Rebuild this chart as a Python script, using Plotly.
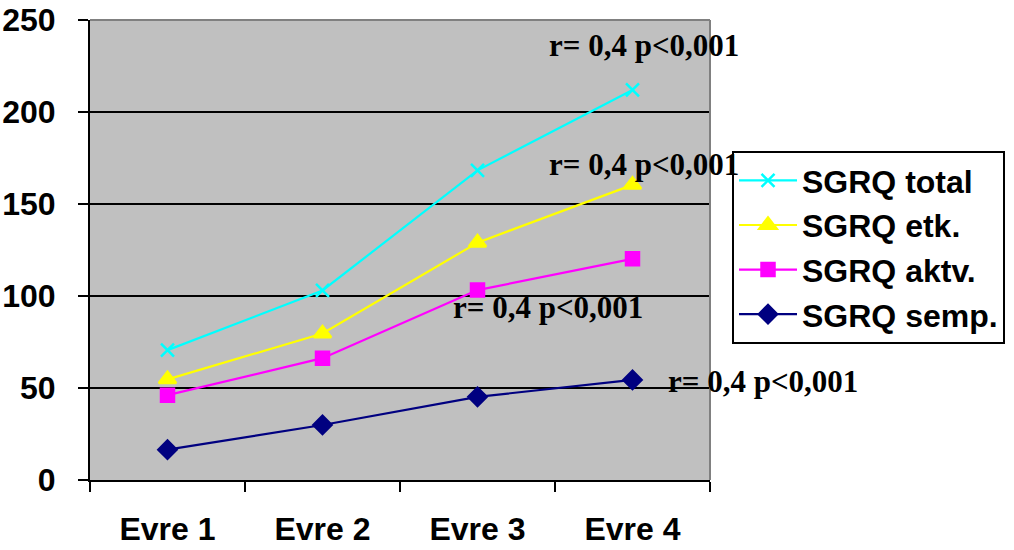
import plotly.graph_objects as go

categories = ["Evre 1", "Evre 2", "Evre 3", "Evre 4"]
sgrq_total = [70.6, 103, 168.3, 212]
sgrq_etk = [54.7, 79.6, 129, 160.4]
sgrq_aktv = [46.1, 66.2, 103.2, 120.2]
sgrq_semp = [16.5, 29.9, 45.2, 54.4]
y_ticks = [0, 50, 100, 150, 200, 250]
annot_text = "r= 0,4 p<0,001"

AX = dict(family="Arial, Liberation Sans, sans-serif", size=32, color="black")

fig = go.Figure()
series = [
    ("SGRQ total", sgrq_total, "#00FFFF", "x-thin", 13),
    ("SGRQ etk.", sgrq_etk, "#FFFF00", "triangle-up", 15),
    ("SGRQ aktv.", sgrq_aktv, "#FF00FF", "square", 13),
    ("SGRQ semp.", sgrq_semp, "#000080", "diamond", 14),
]
for name, vals, col, sym, sz in series:
    fig.add_trace(go.Scatter(
        x=list(range(len(categories))), y=vals, name="<b>%s</b>" % name, mode="lines+markers",
        line=dict(color=col, width=2.2),
        marker=dict(symbol=sym, size=sz, color=col, line=dict(color=col, width=2.5)),
    ))

fig.update_layout(
    width=1014, height=550,
    margin=dict(l=90, r=304, t=20, b=70, autoexpand=False),
    paper_bgcolor="white", plot_bgcolor="#C0C0C0",
    showlegend=True,
    legend=dict(
        x=1.0355, y=0.715, xanchor="left", yanchor="top",
        bgcolor="white", bordercolor="black", borderwidth=2,
        font=dict(family="Arial, Liberation Sans, sans-serif", size=32, color="black"),
        itemwidth=58, tracegroupgap=0,
    ),
    font=AX,
)
fig.update_xaxes(
    range=[-0.5, 3.5], tickmode="array", tickvals=[0, 1, 2, 3], ticktext=["<b>%s</b>" % c for c in categories],
    showgrid=False, showline=True, linecolor="black", linewidth=2,
    ticks="", zeroline=False, ticklabelstandoff=20, automargin=False,
    tickfont=AX,
)
fig.update_xaxes(minor=dict(tickmode="array", tickvals=[-0.5, 0.5, 1.5, 2.5, 3.5], ticks="outside", ticklen=10, tickwidth=2, tickcolor="black", showgrid=False))
fig.update_yaxes(
    range=[0, 250], tickmode="array", tickvals=y_ticks, ticktext=["<b>%d</b>" % v for v in y_ticks],
    showgrid=True, gridcolor="black", gridwidth=2,
    showline=True, linecolor="black", linewidth=2,
    ticks="outside", ticklen=10, tickwidth=2, tickcolor="black",
    zeroline=False, tickfont=AX, ticklabelstandoff=16, automargin=False,
)
fig.add_shape(type="line", xref="paper", yref="paper", x0=0, x1=1, y0=1, y1=1, line=dict(color="#808080", width=2))
fig.add_shape(type="line", xref="paper", yref="paper", x0=1, x1=1, y0=0, y1=1, line=dict(color="#808080", width=2))

TF = dict(family="Liberation Serif, Times New Roman, serif", size=31, color="black")
annot_pos = [(644, 45), (644, 164), (548, 307), (763, 381)]  # page-pixel centres
for px, py in annot_pos:
    fig.add_annotation(x=(px - 90) / 620, y=(480 - py) / 460, xref="paper", yref="paper",
                       text="<b>%s</b>" % annot_text, showarrow=False, font=TF,
                       xanchor="center", yanchor="middle")

fig.write_html("out.html", config={"displayModeBar": False},
               post_script="document.body.style.margin='0';document.body.style.overflow='hidden';")
